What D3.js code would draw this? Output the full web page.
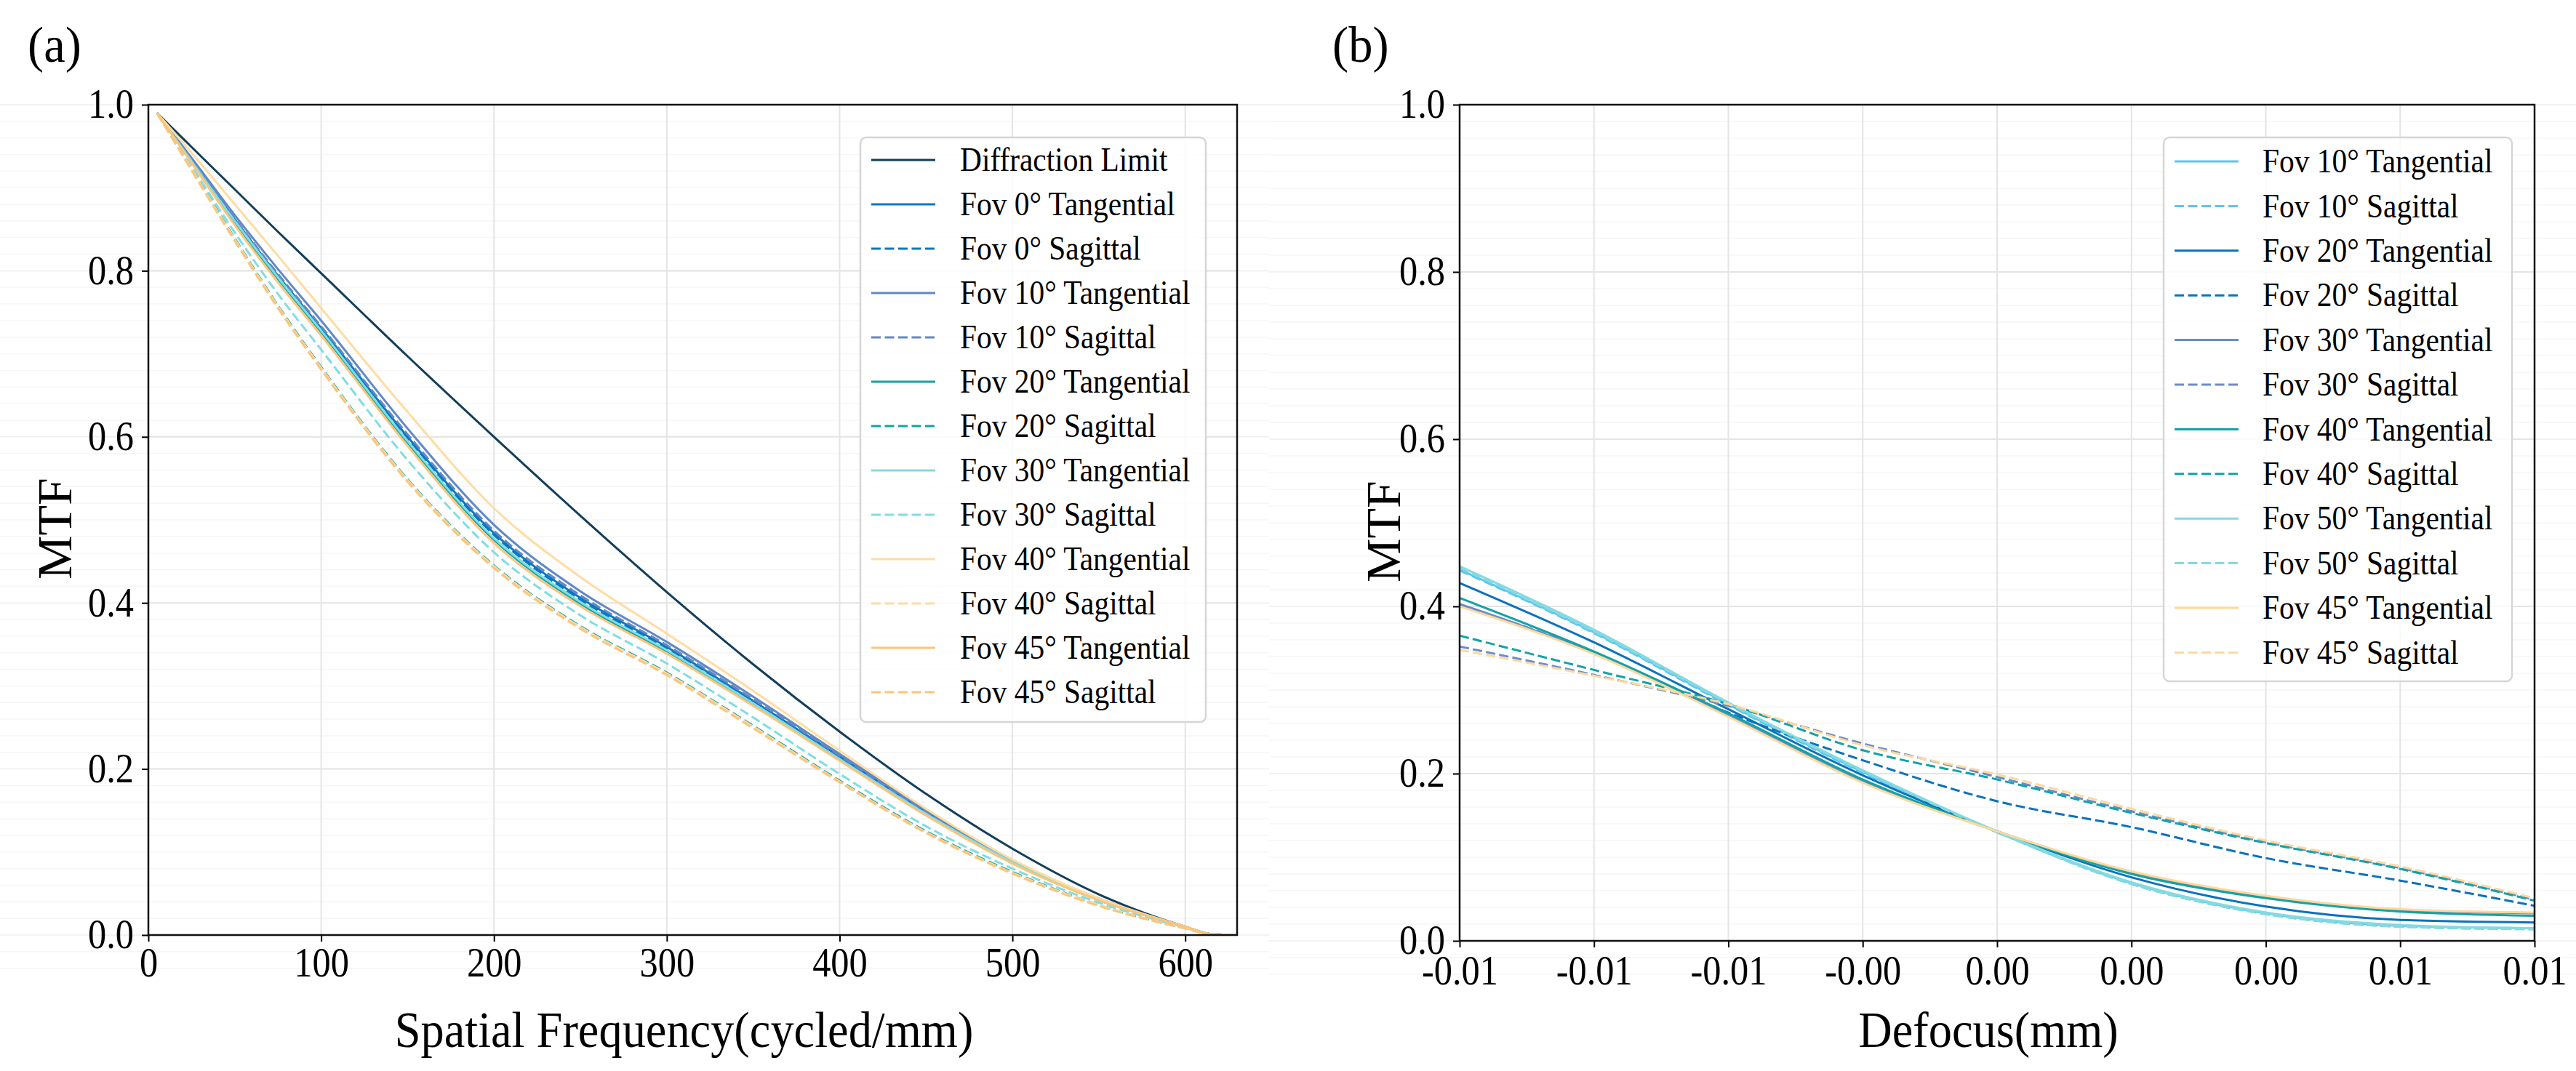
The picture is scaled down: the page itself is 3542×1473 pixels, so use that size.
<!DOCTYPE html>
<html>
<head>
    <title>MTF Curves</title>
    <script src="https://d3js.org/d3.v7.min.js"></script>
    <style>
        body {
            margin: 0;
            background-color: #ffffff;
        }

        svg {
            display: block;
        }

        text {
            font-family: "Liberation Serif", "Times New Roman", serif;
            fill: #000000;
        }
    </style>
</head>
<body>
<script>
    // ---------------- panel (a): MTF vs spatial frequency ----------------
    const freq = [5, 25, 50, 75, 100, 150, 200, 250, 300, 350, 400, 450, 500, 550, 600, 615, 630];
    const freqTicks = [0, 100, 200, 300, 400, 500, 600];

    const diffLimit = [0.990, 0.949, 0.898, 0.847, 0.797, 0.697, 0.600, 0.505, 0.413, 0.326, 0.245, 0.170, 0.104, 0.049, 0.010, 0.001, 0.000];
    const fov0T = [0.990, 0.933, 0.862, 0.794, 0.731, 0.600, 0.484, 0.406, 0.347, 0.282, 0.215, 0.148, 0.089, 0.043, 0.010, 0.001, 0.000];
    const fov0S = [0.990, 0.932, 0.860, 0.792, 0.729, 0.598, 0.482, 0.404, 0.345, 0.280, 0.213, 0.147, 0.088, 0.043, 0.010, 0.001, 0.000];
    const fov10T = [0.990, 0.936, 0.867, 0.802, 0.740, 0.610, 0.494, 0.414, 0.353, 0.287, 0.218, 0.150, 0.090, 0.044, 0.010, 0.001, 0.000];
    const fov10S = [0.990, 0.934, 0.863, 0.796, 0.733, 0.603, 0.487, 0.409, 0.349, 0.284, 0.216, 0.148, 0.089, 0.043, 0.010, 0.001, 0.000];
    const fov20T = [0.990, 0.931, 0.858, 0.790, 0.726, 0.593, 0.476, 0.399, 0.341, 0.277, 0.211, 0.145, 0.087, 0.042, 0.010, 0.001, 0.000];
    const fov20S = [0.990, 0.923, 0.839, 0.758, 0.684, 0.549, 0.445, 0.372, 0.316, 0.252, 0.186, 0.125, 0.076, 0.036, 0.008, 0.001, 0.000];
    const fov30T = [0.990, 0.932, 0.860, 0.792, 0.728, 0.595, 0.478, 0.401, 0.343, 0.279, 0.212, 0.146, 0.088, 0.042, 0.010, 0.001, 0.000];
    const fov30S = [0.990, 0.926, 0.846, 0.772, 0.705, 0.572, 0.461, 0.385, 0.327, 0.262, 0.194, 0.131, 0.080, 0.039, 0.009, 0.001, 0.000];
    const fov40T = [0.990, 0.942, 0.880, 0.818, 0.755, 0.630, 0.514, 0.431, 0.363, 0.294, 0.222, 0.152, 0.091, 0.044, 0.010, 0.001, 0.000];
    const fov40S = [0.990, 0.922, 0.838, 0.757, 0.683, 0.548, 0.444, 0.371, 0.315, 0.251, 0.185, 0.124, 0.075, 0.036, 0.008, 0.001, 0.000];
    const fov45T = [0.990, 0.930, 0.855, 0.786, 0.722, 0.589, 0.472, 0.396, 0.339, 0.276, 0.210, 0.144, 0.086, 0.042, 0.010, 0.001, 0.000];
    const fov45S = [0.990, 0.921, 0.836, 0.755, 0.681, 0.546, 0.442, 0.369, 0.313, 0.249, 0.184, 0.123, 0.074, 0.035, 0.008, 0.001, 0.000];

    // ---------------- panel (b): MTF vs defocus ----------------
    const defocus = [-0.01, -0.0075, -0.005, -0.0025, 0, 0.0025, 0.005, 0.0075, 0.01];
    const defocusLabels = ["-0.01", "-0.01", "-0.01", "-0.00", "0.00", "0.00", "0.00", "0.01", "0.01"];

    const b10T = [0.444, 0.369, 0.283, 0.202, 0.130, 0.069, 0.033, 0.018, 0.015];
    const b10S = [0.443, 0.368, 0.282, 0.201, 0.130, 0.068, 0.032, 0.017, 0.014];
    const b20T = [0.428, 0.357, 0.277, 0.198, 0.131, 0.076, 0.041, 0.025, 0.022];
    const b20S = [0.402, 0.345, 0.273, 0.216, 0.167, 0.136, 0.099, 0.072, 0.042];
    const b30T = [0.403, 0.344, 0.270, 0.191, 0.131, 0.082, 0.052, 0.037, 0.033];
    const b30S = [0.352, 0.318, 0.281, 0.236, 0.196, 0.155, 0.118, 0.087, 0.049];
    const b40T = [0.410, 0.346, 0.272, 0.193, 0.131, 0.080, 0.051, 0.035, 0.030];
    const b40S = [0.365, 0.324, 0.283, 0.228, 0.193, 0.153, 0.117, 0.086, 0.048];
    const b50T = [0.448, 0.372, 0.285, 0.204, 0.131, 0.070, 0.034, 0.019, 0.015];
    const b50S = [0.446, 0.370, 0.284, 0.203, 0.130, 0.068, 0.032, 0.017, 0.014];
    const b45T = [0.400, 0.343, 0.268, 0.189, 0.131, 0.083, 0.054, 0.038, 0.034];
    const b45S = [0.348, 0.317, 0.283, 0.234, 0.199, 0.158, 0.120, 0.089, 0.051];

    const mtfTicks = [0, 0.2, 0.4, 0.6, 0.8, 1.0];

    // series tables: label, values, colour, dashed
    const seriesA = [
        ["Diffraction Limit", diffLimit, "#133e5a", false],
        ["Fov 0° Tangential", fov0T, "#0b78c1", false],
        ["Fov 0° Sagittal", fov0S, "#0b78c1", true],
        ["Fov 10° Tangential", fov10T, "#6288c6", false],
        ["Fov 10° Sagittal", fov10S, "#6288c6", true],
        ["Fov 20° Tangential", fov20T, "#10a4a0", false],
        ["Fov 20° Sagittal", fov20S, "#10a4a0", true],
        ["Fov 30° Tangential", fov30T, "#80dde2", false],
        ["Fov 30° Sagittal", fov30S, "#80dde2", true],
        ["Fov 40° Tangential", fov40T, "#ffdca2", false],
        ["Fov 40° Sagittal", fov40S, "#ffdca2", true],
        ["Fov 45° Tangential", fov45T, "#fdc47a", false],
        ["Fov 45° Sagittal", fov45S, "#fdc47a", true]
    ];

    const seriesB = [
        ["Fov 10° Tangential", b10T, "#5cc6f2", false],
        ["Fov 10° Sagittal", b10S, "#5cc6f2", true],
        ["Fov 20° Tangential", b20T, "#0b72bd", false],
        ["Fov 20° Sagittal", b20S, "#0b72bd", true],
        ["Fov 30° Tangential", b30T, "#6a8ccc", false],
        ["Fov 30° Sagittal", b30S, "#6a8ccc", true],
        ["Fov 40° Tangential", b40T, "#12a3a6", false],
        ["Fov 40° Sagittal", b40S, "#12a3a6", true],
        ["Fov 50° Tangential", b50T, "#84dadf", false],
        ["Fov 50° Sagittal", b50S, "#84dadf", true],
        ["Fov 45° Tangential", b45T, "#ffd89c", false],
        ["Fov 45° Sagittal", b45S, "#ffd89c", true]
    ];

    const width = 3542;
    const height = 1473;
    const squeeze = 0.9; // text in the figure is slightly narrow

    const svg = d3.select("body")
        .append("svg")
        .attr("width", width)
        .attr("height", height);

    svg.append("rect").attr("width", width).attr("height", height).attr("fill", "#ffffff");

    const panels = [
        {
            id: "a", tag: "(a)", tagX: 38,
            x: d3.scaleLinear().domain([0, 630]).range([204, 1701]),
            y: d3.scaleLinear().domain([0, 1]).range([1286, 144]),
            xs: freq, xTicks: freqTicks, xFormat: d3.format("d"), xPad: 8,
            series: seriesA, xTitle: "Spatial Frequency(cycled/mm)",
            bgFrom: 0, bgTo: 1745, yTitleX: 98,
            legend: {x: 1183, y: 189, w: 475, h: 804, row0: 220, step: 61, h1: 1198, h2: 1286, tx: 1320}
        },
        {
            id: "b", tag: "(b)", tagX: 1832,
            x: d3.scaleLinear().domain([-0.01, 0.01]).range([2007, 3485]),
            y: d3.scaleLinear().domain([0, 1]).range([1294, 144]),
            xs: defocus, xTicks: defocus, xFormat: (d, i) => defocusLabels[i], xPad: 11,
            series: seriesB, xTitle: "Defocus(mm)",
            bgFrom: 1745, bgTo: width, yTitleX: 1925,
            legend: {x: 2975, y: 189, w: 479, h: 748, row0: 222, step: 61.4, h1: 2990, h2: 3078, tx: 3111}
        }
    ];

    panels.forEach(function (p) {
        const x = p.x, y = p.y;
        const [left, right] = x.range();
        const [bottom, top] = y.range();
        const g = svg.append("g");

        // very faint horizontal rulings every 0.02, running across the figure
        d3.range(-2, 51).forEach(function (k) {
            g.append("line")
                .attr("x1", p.bgFrom).attr("x2", p.bgTo)
                .attr("y1", y(k * 0.02)).attr("y2", y(k * 0.02))
                .attr("stroke", k % 10 === 0 ? "#eeeeee" : "#f6f6f6")
                .attr("stroke-width", 1.5);
        });

        // major grid inside the axes
        g.selectAll(".hgrid")
            .data(mtfTicks)
            .enter()
            .append("line")
            .attr("x1", left).attr("x2", right)
            .attr("y1", d => y(d)).attr("y2", d => y(d))
            .attr("stroke", "#e4e4e4")
            .attr("stroke-width", 2);

        g.selectAll(".vgrid")
            .data(p.xTicks)
            .enter()
            .append("line")
            .attr("x1", d => x(d)).attr("x2", d => x(d))
            .attr("y1", top).attr("y2", bottom)
            .attr("stroke", "#e4e4e4")
            .attr("stroke-width", 2);

        // curves
        g.append("clipPath").attr("id", "clip-" + p.id)
            .append("rect")
            .attr("x", left).attr("y", top)
            .attr("width", right - left).attr("height", bottom - top);

        const line = d3.line()
            .x((d, i) => x(p.xs[i]))
            .y(d => y(d))
            .curve(d3.curveMonotoneX);

        g.append("g").attr("clip-path", "url(#clip-" + p.id + ")")
            .selectAll("path")
            .data(p.series)
            .enter()
            .append("path")
            .attr("d", d => line(d[1]))
            .attr("fill", "none")
            .attr("stroke", d => d[2])
            .attr("stroke-width", 3)
            .attr("stroke-dasharray", d => d[3] ? "13,5.5" : null);

        // axes
        const xAxis = g.append("g")
            .attr("transform", "translate(0," + bottom + ")")
            .call(d3.axisBottom(x).tickValues(p.xTicks).tickFormat(p.xFormat).tickSize(9).tickPadding(p.xPad));
        const yAxis = g.append("g")
            .attr("transform", "translate(" + left + ",0)")
            .call(d3.axisLeft(y).tickValues(mtfTicks).tickFormat(d3.format(".1f")).tickSize(9).tickPadding(11));

        [xAxis, yAxis].forEach(function (ax) {
            ax.select(".domain").remove();
            ax.selectAll(".tick line").attr("stroke", "#000").attr("stroke-width", 2);
            ax.selectAll(".tick text")
                .style("font-family", "'Liberation Serif', 'Times New Roman', serif")
                .style("font-size", "56px")
                .attr("fill", "#000");
        });
        xAxis.selectAll(".tick text").attr("transform", "scale(" + squeeze + ",1)");
        yAxis.selectAll(".tick text")
            .attr("x", -20 / squeeze)
            .attr("transform", "scale(" + squeeze + ",1)");

        // spines
        g.append("rect")
            .attr("x", left).attr("y", top)
            .attr("width", right - left).attr("height", bottom - top)
            .attr("fill", "none")
            .attr("stroke", "#111")
            .attr("stroke-width", 2.5);

        // legend
        const L = p.legend;
        const lg = g.append("g");
        lg.append("rect")
            .attr("x", L.x).attr("y", L.y)
            .attr("width", L.w).attr("height", L.h)
            .attr("rx", 8)
            .attr("fill", "#ffffff").attr("fill-opacity", 0.8)
            .attr("stroke", "#d6d6d6").attr("stroke-width", 2.5);

        const rows = lg.selectAll(".row")
            .data(p.series)
            .enter()
            .append("g")
            .attr("transform", (d, i) => "translate(0," + (L.row0 + i * L.step) + ")");
        rows.append("line")
            .attr("x1", L.h1).attr("x2", L.h2)
            .attr("stroke", d => d[2])
            .attr("stroke-width", 3)
            .attr("stroke-dasharray", d => d[3] ? "13,5.5" : null);
        rows.append("text")
            .attr("transform", "translate(" + L.tx + ",0) scale(" + squeeze + ",1)")
            .attr("dy", "0.33em")
            .style("font-size", "46px")
            .text(d => d[0]);

        // titles
        g.append("text")
            .attr("transform", "translate(" + ((left + right) / 2 - 12) + ",1440) scale(0.92,1)")
            .attr("text-anchor", "middle")
            .style("font-size", "70px")
            .text(p.xTitle);

        g.append("text")
            .attr("transform", "translate(" + p.yTitleX + "," + ((top + bottom) / 2 + 12) + ") rotate(-90)")
            .attr("text-anchor", "middle")
            .style("font-size", "68px")
            .text("MTF");

        g.append("text")
            .attr("transform", "translate(" + p.tagX + ",85) scale(0.95,1)")
            .style("font-size", "70px")
            .text(p.tag);
    });
</script>
</body>
</html>
